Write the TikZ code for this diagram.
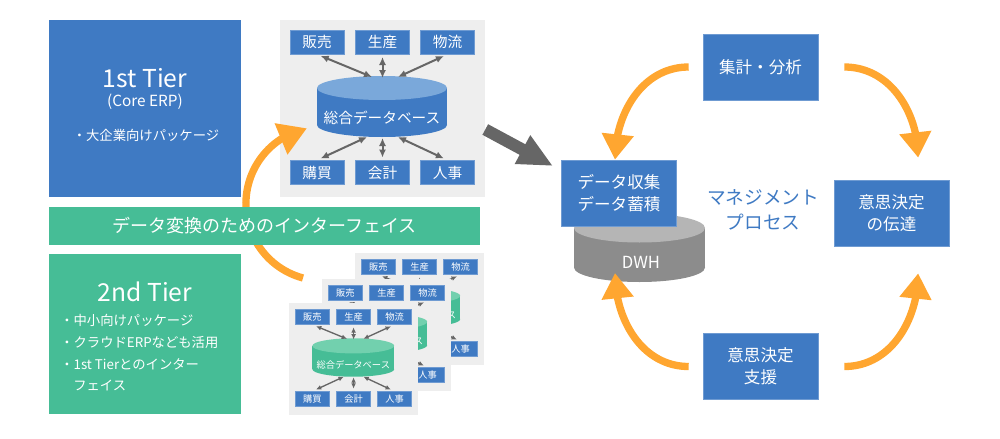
\documentclass[tikz,border=0pt]{standalone}
\usepackage{fontspec}
\setmainfont{Noto Sans CJK JP}
\usetikzlibrary{arrows.meta,bending,positioning}
\definecolor{erpblue}{HTML}{3F7AC3}
\definecolor{erplight}{HTML}{7AA8DA}
\definecolor{ifgreen}{HTML}{46BD96}
\definecolor{greenlight}{HTML}{72D0AE}
\definecolor{loopor}{HTML}{FFA630}
\definecolor{panelgray}{HTML}{EEEEEE}
\definecolor{linkgray}{HTML}{666666}
\definecolor{dwhbody}{HTML}{8C8C8C}
\definecolor{dwhtop}{HTML}{B5B5B5}
\tikzset{
  bluebox/.style={fill=erpblue, draw=erpblue!75!white, line width=0.5pt, text=white, inner sep=0pt, align=center},
  modbox/.style={bluebox, minimum width=40.5pt, minimum height=18pt, font=\fontsize{11}{13}\selectfont},
  panel/.style={fill=panelgray, inner sep=0pt, minimum width=153.75pt, minimum height=132.75pt},
  dbl/.style={linkgray, line width=1.5pt, {Latex[length=0pt 4,width=0pt 3.6]}-{Latex[length=0pt 4,width=0pt 3.6]}},
  cyclearrow/.style={loopor, line width=5.5pt, -{Triangle[length=19pt,width=23pt]}},
  procbox/.style={bluebox, minimum width=86.25pt, minimum height=49.5pt, font=\fontsize{12.4}{16.5}\selectfont},
  whitetext/.style={text=white, inner sep=0pt}
}
% cx, top y, bottom y, rx, ry, body, top
\newcommand{\dbdrum}[7]{%
  \fill[#6] (#1-#4,#2) rectangle (#1+#4,#3);
  \fill[#6] (#1,#3) ellipse[x radius=#4, y radius=#5];
  \fill[#7] (#1,#2) ellipse[x radius=#4, y radius=#5];}
% prefix, cylinder body, cylinder top
\newcommand{\erppanel}[3]{%
  \node[panel] (#1) at (102.5,-88.5) {};
  \node[modbox] (#1hb) at (37,-22) {販売};
  \node[modbox] (#1sc) at (102.5,-22) {生産};
  \node[modbox] (#1bl) at (167.5,-22) {物流};
  \node[modbox] (#1kb) at (37,-152.5) {購買};
  \node[modbox] (#1kk) at (102.5,-152.5) {会計};
  \node[modbox] (#1jj) at (167.5,-152.5) {人事};
  \dbdrum{102}{-68}{-105}{65}{12}{#2}{#3}
  \node[whitetext, font=\fontsize{11}{13}\selectfont] (#1db) at (102,-98) {総合データベース};
  \coordinate (#1t1) at (92,-57);
  \coordinate (#1t2) at (102.5,-58);
  \coordinate (#1t3) at (118,-57);
  \coordinate (#1b1) at (87,-117);
  \coordinate (#1b2) at (102.5,-118);
  \coordinate (#1b3) at (118,-117);
  \draw[dbl, shorten <=3pt] (#1hb.south) -- (#1t1);
  \draw[dbl, shorten <=2pt] (#1sc.south) -- (#1t2);
  \draw[dbl, shorten <=3pt] (#1bl.south) -- (#1t3);
  \draw[dbl, shorten >=3pt] (#1b1) -- (#1kb.north);
  \draw[dbl, shorten >=2pt] (#1b2) -- (#1kk.north);
  \draw[dbl, shorten >=3pt] (#1b3) -- (#1jj.north);}
\begin{document}
\begin{tikzpicture}[x=0.75pt,y=0.75pt]
\useasboundingbox (0,0) rectangle (1000,-439);

\node[bluebox, minimum width=144pt, minimum height=132.75pt, draw=none] (tier1) at (145,-108.5) {};
\node[whitetext, font=\fontsize{18.5}{20}\selectfont] (t1name) at (145,-78) {1st Tier};
\node[whitetext, font=\fontsize{11.5}{13}\selectfont] (t1sub) at (145,-102) {(Core ERP)};
\node[whitetext, font=\fontsize{10}{12}\selectfont] (t1pkg) at (146,-135) {・大企業向けパッケージ};

\node[fill=ifgreen, minimum width=144pt, minimum height=120pt, inner sep=0pt] (tier2) at (145,-334) {};
\node[whitetext, font=\fontsize{18.5}{20}\selectfont] (t2name) at (145,-292) {2nd Tier};
\node[whitetext, anchor=west, font=\fontsize{10}{12}\selectfont] (t2a) at (60,-320) {・中小向けパッケージ};
\node[whitetext, anchor=west, font=\fontsize{10}{12}\selectfont] (t2b) at (60,-342) {・クラウドERPなども活用};
\node[whitetext, anchor=west, font=\fontsize{10}{12}\selectfont] (t2c) at (60,-364) {・1st Tierとのインター};
\node[whitetext, anchor=west, font=\fontsize{10}{12}\selectfont] (t2d) at (73,-385) {フェイス};

\begin{scope}[shift={(280,-20)}]
\erppanel{erp}{erpblue}{erplight}
\end{scope}

\coordinate (upstart) at (303,-278);
\draw[cyclearrow, -{Triangle[length=21pt,width=24pt]}] (upstart) arc[start angle=255, end angle=102, radius=77];

\node[fill=ifgreen, minimum width=323.25pt, minimum height=28.5pt, inner sep=0pt, text=white, font=\fontsize{13.5}{15}\selectfont] (iface) at (264.5,-226) {データ変換のためのインターフェイス};

\coordinate (dcin) at (553,-166);
\draw[linkgray, line width=9pt, -{Triangle[length=26pt,width=22.5pt]}] ([yshift=-15.75pt]erp.east) -- (dcin);

\begin{scope}[shift={(355,-253)}, scale=0.63, transform shape, dbl/.append style={line width=1pt}]
\erppanel{erpc}{ifgreen}{greenlight}
\end{scope}
\begin{scope}[shift={(322,-279)}, scale=0.63, transform shape, dbl/.append style={line width=1pt}]
\erppanel{erpb}{ifgreen}{greenlight}
\end{scope}
\begin{scope}[shift={(289,-303)}, scale=0.63, transform shape, dbl/.append style={line width=1pt}]
\erppanel{erpa}{ifgreen}{greenlight}
\end{scope}

\dbdrum{639.5}{-228}{-267.5}{65.5}{14.5}{dwhbody}{dwhtop}
\node[whitetext, font=\fontsize{12.5}{14}\selectfont] (dwh) at (641,-262) {DWH};
\node[procbox] (dc) at (619,-193) {データ収集\\データ蓄積};
\node[procbox] (agg) at (760.5,-67) {集計・分析};
\node[procbox] (comm) at (891.5,-213) {意思決定\\の伝達};
\node[procbox] (supp) at (760.5,-366.5) {意思決定\\支援};
\node[text=erpblue, align=center, font=\fontsize{14}{18.75}\selectfont] (mgmt) at (763,-210) {マネジメント\\プロセス};
\coordinate (dwhbot) at (615,-273);

\draw[cyclearrow] ([xshift=-10.5pt]agg.west) to[out=180,in=90] ([xshift=-3pt]dc.north);
\draw[cyclearrow] ([xshift=19.5pt]agg.east) to[out=0,in=90] ([xshift=20pt,yshift=16.5pt]comm.north);
\draw[cyclearrow] ([xshift=-10.5pt]supp.west) to[out=180,in=-90] (dwhbot);
\draw[cyclearrow] ([xshift=19.5pt]supp.east) to[out=0,in=-90] ([xshift=20pt,yshift=-20.25pt]comm.south);
\end{tikzpicture}
\end{document}
